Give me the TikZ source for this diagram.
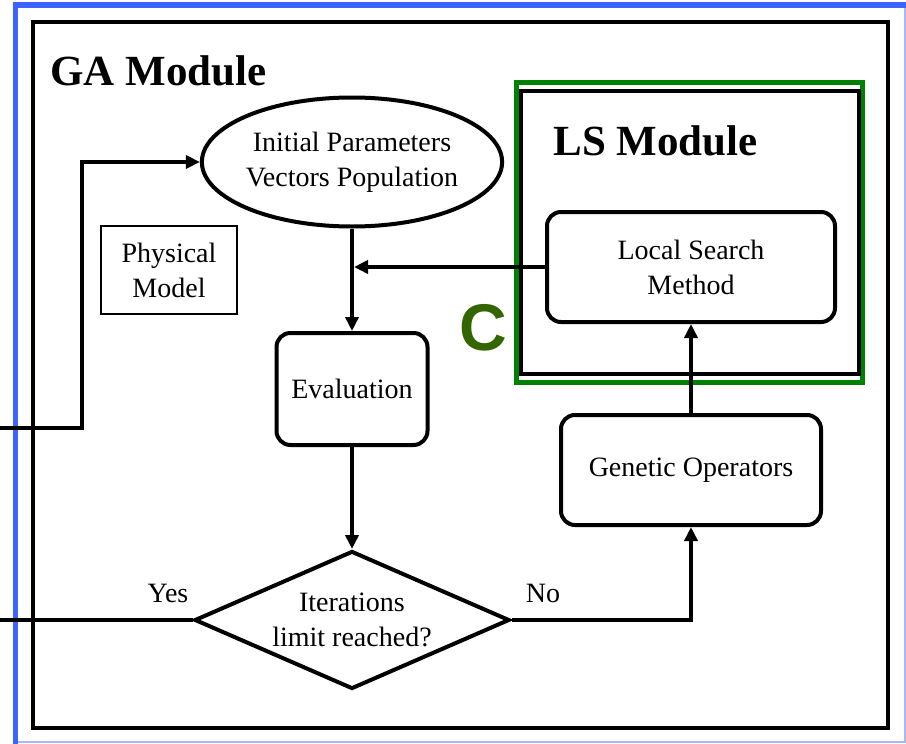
\documentclass[tikz,border=0pt]{standalone}
\usepackage{fontspec}
\setmainfont{Liberation Serif}
\newfontfamily\labelsans{Liberation Sans}
\usetikzlibrary{shapes.geometric,arrows.meta}
\definecolor{frameblue}{RGB}{60,100,255}
\definecolor{framelight}{RGB}{165,185,250}
\definecolor{lsgreen}{RGB}{0,128,0}
\definecolor{cgreen}{RGB}{51,102,0}
\begin{document}
\begin{tikzpicture}[x=.5pt,y=-.5pt,>={Triangle[length=7pt,width=6.5pt]},
  txt/.style={font=\fontsize{14}{17.5}\selectfont,align=center,inner sep=0pt},
  rbox/.style={txt,draw,line width=2pt,rounded corners=7pt},
  link/.style={line width=2pt}]
\useasboundingbox (0,0) rectangle (906,744);
% frames
\draw[framelight,line width=1pt] (15,5) rectangle (905,742);
\draw[frameblue,line width=2.6pt] (15.5,744)--(15.5,5)--(906,5);
\draw[line width=2pt] (33,22) rectangle (888,728);
\draw[lsgreen,line width=2.5pt] (516,82) rectangle (862,382);
\draw[line width=1.8pt] (521,91) rectangle (859,374);
\node[anchor=base west,inner sep=0pt,font=\fontsize{21.5}{24}\selectfont\bfseries] (gatitle) at (50,85) {GA Module};
\node[anchor=base west,inner sep=0pt,font=\fontsize{21.5}{24}\selectfont\bfseries] (lstitle) at (553,155) {LS Module};
\node[anchor=base west,inner sep=0pt,text=cgreen,font=\fontsize{33}{36}\labelsans\bfseries] (clabel) at (459,350) {C};
% blocks
\node[txt,draw,ellipse,line width=2pt,minimum width=143.5pt,minimum height=64.5pt] (pop) at (352,162) {Initial Parameters\\Vectors Population};
\node[txt,draw,line width=.7pt,minimum width=68pt,minimum height=44pt] (phys) at (169,270) {Physical\\Model};
\node[rbox,minimum width=75.5pt,minimum height=56pt] (eval) at (352,389) {Evaluation};
\node[txt,draw,diamond,aspect=2.28,line width=2pt,minimum width=157.5pt,minimum height=69pt] (iter) at (352,620) {Iterations\\limit reached?};
\node[rbox,minimum width=144pt,minimum height=55pt] (lsm) at (691,267) {Local Search\\Method};
\node[rbox,minimum width=130pt,minimum height=55pt] (gen) at (691,470) {Genetic Operators};
% connectors
\coordinate (inp) at (0,428);
\coordinate (bend) at (82,428);
\coordinate (yesout) at (0,620);
\coordinate (join) at (352,267);
\draw[link,->] (inp)--(bend)|-(pop.west);
\draw[link,->] (pop)--(eval);
\draw[link,->,shorten >=1pt] (lsm)--(join);
\draw[link,->] (eval)--(iter);
\draw[link] (iter)--(yesout);
\draw[link,->] (iter)-|(gen);
\draw[link,->] (gen)--(lsm);
\node[txt,anchor=base] (yes) at (168,602) {Yes};
\node[txt,anchor=base] (no) at (543,602) {No};
\end{tikzpicture}
\end{document}
